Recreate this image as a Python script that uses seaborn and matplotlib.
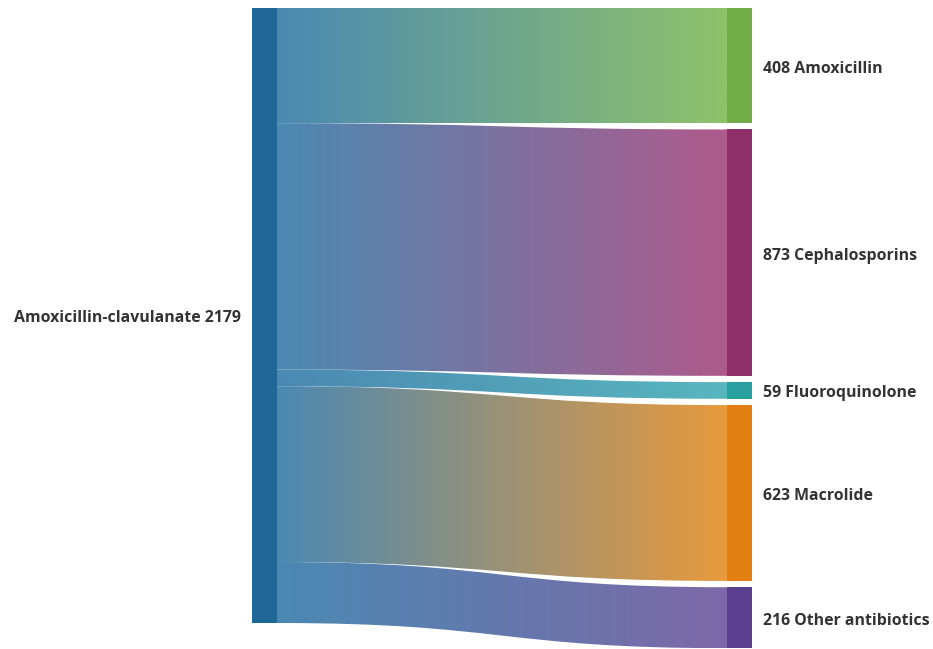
"""
Sankey-style flow: Amoxicillin-clavulanate switched to other antibiotics
"""
import numpy as np
import matplotlib.pyplot as plt
import seaborn as sns
from matplotlib.path import Path
from matplotlib.patches import PathPatch, Rectangle

sns.set_theme(style='white')
plt.rcParams['font.family'] = ['Open Sans', 'DejaVu Sans']

# data
source_name = 'Amoxicillin-clavulanate'
targets = ['Amoxicillin', 'Cephalosporins', 'Fluoroquinolone', 'Macrolide', 'Other antibiotics']
values = [408, 873, 59, 623, 216]

# colours
source_color = '#1f6796'
flow_start_color = '#4b89b2'
node_colors = ['#70ad47', '#8e2f6a', '#2a9fa0', '#e37f12', '#5a3f8e']
flow_end_colors = ['#8fc26a', '#ae5a8c', '#58b6be', '#e89a3c', '#7d68a8']

W, H = 933, 649
left_x, right_x, node_w = 252, 727, 25
top, gap = 8, 6.3
total = sum(values)
scale = 615 / total
label_kw = dict(fontsize=11.4, fontweight='bold', color='#333333', va='center_baseline')


def flow_path(x0, x1, y0t, y0b, y1t, y1b):
    xm = (x0 + x1) / 2
    verts = [(x0, y0t), (xm, y0t), (xm, y1t), (x1, y1t),
             (x1, y1b), (xm, y1b), (xm, y0b), (x0, y0b), (x0, y0t)]
    codes = [Path.MOVETO, Path.CURVE4, Path.CURVE4, Path.CURVE4,
             Path.LINETO, Path.CURVE4, Path.CURVE4, Path.CURVE4, Path.CLOSEPOLY]
    return Path(verts, codes)


fig = plt.figure(figsize=(W / 100, H / 100), dpi=100)
ax = fig.add_axes([0, 0, 1, 1])

# source node
src_h = total * scale
ax.add_patch(Rectangle((left_x, top), node_w, src_h, facecolor=source_color, edgecolor='none'))
ax.text(left_x - 11, top + src_h / 2 + 1, f'{source_name} {total}', ha='right', **label_kw)

y_left = top
y_right = top
x0, x1 = left_x + node_w, right_x
for name, val, nc, ec in zip(targets, values, node_colors, flow_end_colors):
    h = val * scale
    path = flow_path(x0, x1, y_left, y_left + h, y_right, y_right + h)
    patch = PathPatch(path, facecolor='none', edgecolor='none')
    ax.add_patch(patch)
    grad = np.array(sns.blend_palette([flow_start_color, ec], n_colors=256))[None, :, :]
    lo, hi = min(y_left, y_right), max(y_left, y_right) + h
    im = ax.imshow(grad, extent=[x0, x1, hi, lo], aspect='auto', interpolation='bilinear')
    im.set_clip_path(patch)

    ax.add_patch(Rectangle((right_x, y_right), node_w, h, facecolor=nc, edgecolor='none'))
    ax.text(right_x + node_w + 11, y_right + h / 2 + 1, f'{val} {name}', ha='left', **label_kw)

    y_left += h
    y_right += h + gap

ax.set_xlim(0, W)
ax.set_ylim(H, 0)
ax.axis('off')

plt.savefig('out.png', dpi=100)
plt.close()
